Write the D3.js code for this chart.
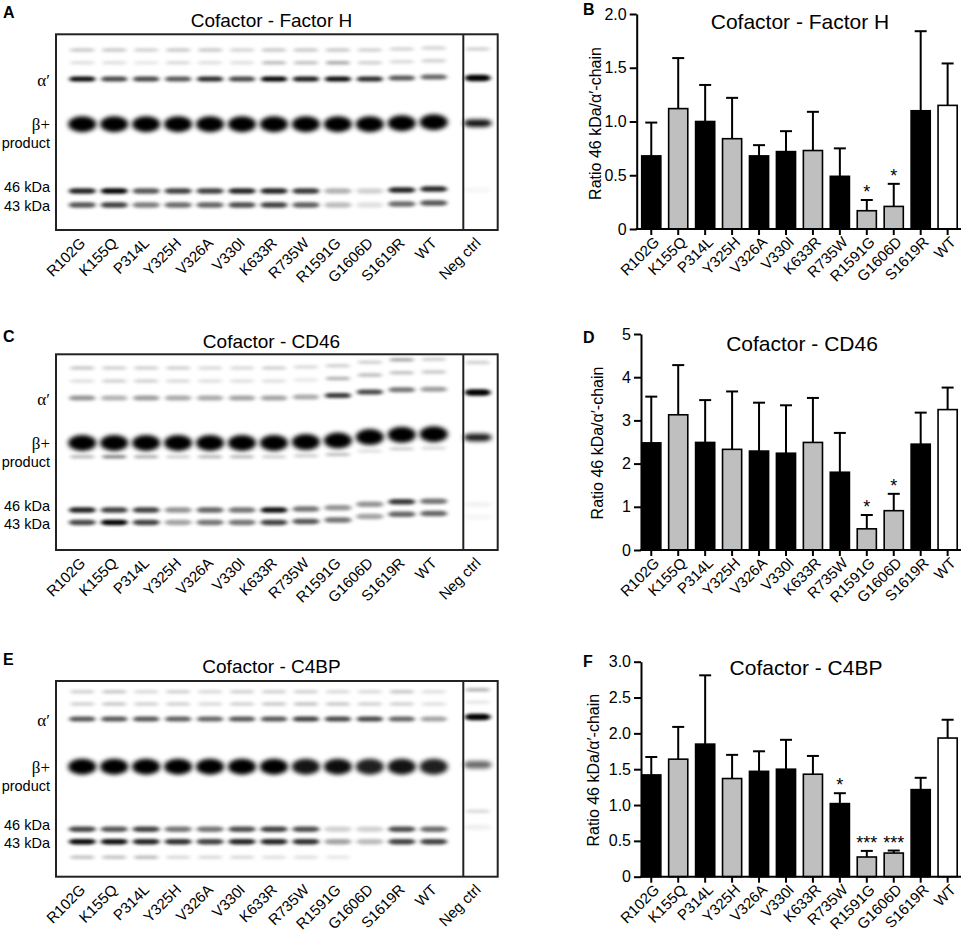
<!DOCTYPE html>
<html><head><meta charset="utf-8">
<script src="https://cdn.jsdelivr.net/npm/d3@7"></script>
<style>
body{margin:0;background:#fff;}
svg{display:block;font-family:"Liberation Sans",Arial,Helvetica,sans-serif;}
</style></head><body>
<svg id="fig" width="965" height="939"></svg>
<script>
// ---------- DATA ----------
const lanes = ["R102G","K155Q","P314L","Y325H","V326A","V330I","K633R","R735W","R1591G","G1606D","S1619R","WT"];
const negLane = "Neg ctrl";
const laneGroup = [1,2,1,2,1,1,2,1,2,2,1,0]; // 1 = dark, 2 = light, 0 = wild type

// Bar charts: mean ratio 46 kDa / alpha'-chain and SD (upper error bar)
const fhMean   = [0.68,1.12,1.00,0.84,0.68,0.72,0.73,0.49,0.17,0.21,1.10,1.15];
const fhSD     = [0.31,0.47,0.34,0.38,0.10,0.19,0.36,0.26,0.10,0.21,0.74,0.39];
const fhSig    = ["","","","","","","","","*","*","",""];
const cd46Mean = [2.48,3.13,2.49,2.33,2.29,2.24,2.49,1.80,0.49,0.91,2.45,3.25];
const cd46SD   = [1.07,1.15,0.98,1.34,1.12,1.11,1.03,0.91,0.32,0.39,0.73,0.51];
const cd46Sig  = ["","","","","","","","","*","*","",""];
const c4bpMean = [1.42,1.64,1.85,1.37,1.47,1.50,1.43,1.02,0.275,0.33,1.215,1.935];
const c4bpSD   = [0.25,0.45,0.96,0.33,0.28,0.41,0.255,0.145,0.085,0.035,0.165,0.255];
const c4bpSig  = ["","","","","","","","*","***","***","",""];
const fhTicks = [0,0.5,1,1.5,2],  fhTickLabels = ["0","0.5","1.0","1.5","2.0"];
const cd46Ticks = [0,1,2,3,4,5],  cd46TickLabels = ["0","1","2","3","4","5"];
const c4bpTicks = [0,0.5,1,1.5,2,2.5,3], c4bpTickLabels = ["0","0.5","1.0","1.5","2.0","2.5","3.0"];

// Blots: relative migration of each band row and band intensity per lane (12 lanes + Neg ctrl)
const blotA_rf = [0.08,0.145,0.228,0.459,0.801,0.872];
const blotA_kind = ["minor","minor","alpha","beta","frag","frag"];
const blotA_int = [
 [0.18,0.18,0.15,0.18,0.18,0.14,0.18,0.18,0.18,0.15,0.14,0.14,0.15],
 [0.10,0.10,0.08,0.12,0.10,0.10,0.22,0.20,0.28,0.15,0.12,0.15,0.00],
 [0.80,0.60,0.60,0.55,0.70,0.60,0.85,0.75,0.80,0.70,0.55,0.50,1.00],
 [1,1,1,1,1,1,1,1,1,1,1,1,0.95],
 [0.72,0.82,0.55,0.62,0.62,0.72,0.72,0.65,0.25,0.15,0.72,0.70,0.03],
 [0.55,0.62,0.42,0.48,0.50,0.58,0.62,0.52,0.22,0.10,0.48,0.55,0.00]
];
const blotA_shift = [0,0,0,0,0,0,0,0,0,0,-0.005,-0.01,-0.005];

const blotC_rf = [0.07,0.136,0.223,0.453,0.524,0.796,0.859];
const blotC_kind = ["minor","minor","alpha","beta","minor","frag","frag"];
const blotC_int = [
 [0.18,0.15,0.15,0.15,0.12,0.12,0.15,0.12,0.15,0.15,0.28,0.15,0.15],
 [0.10,0.15,0.15,0.12,0.10,0.10,0.10,0.08,0.25,0.22,0.20,0.18,0.00],
 [0.35,0.25,0.32,0.28,0.28,0.30,0.30,0.28,0.65,0.60,0.45,0.32,1.00],
 [1,1,1,1,1,1,1,1,1,1,1,1,0.9],
 [0.22,0.40,0.25,0.15,0.22,0.22,0.15,0.15,0.20,0.10,0.15,0.12,0.00],
 [0.72,0.62,0.62,0.35,0.50,0.45,0.78,0.45,0.35,0.35,0.65,0.45,0.04],
 [0.60,0.85,0.62,0.30,0.45,0.45,0.62,0.55,0.45,0.30,0.50,0.50,0.03]
];
const blotC_shift = [0,0,0,0,0,0,0,-0.005,-0.012,-0.03,-0.042,-0.045,-0.028];

const blotE_rf = [0.055,0.118,0.194,0.438,0.675,0.757,0.821,0.9];
const blotE_kind = ["minor","minor","alpha","beta","minor","frag","frag","minor"];
const blotE_int = [
 [0.15,0.18,0.12,0.15,0.12,0.15,0.15,0.15,0.12,0.12,0.18,0.10,0.25],
 [0.15,0.18,0.15,0.15,0.12,0.15,0.18,0.20,0.18,0.15,0.15,0.10,0.08],
 [0.55,0.55,0.55,0.52,0.50,0.55,0.55,0.62,0.60,0.60,0.50,0.30,1.00],
 [1,1,1,1,1,1,1,0.92,0.95,0.88,0.93,0.88,0.6],
 [0,0,0,0,0,0,0,0,0,0,0,0,0.12],
 [0.60,0.55,0.62,0.45,0.45,0.58,0.62,0.58,0.15,0.15,0.58,0.48,0.05],
 [0.80,0.78,0.72,0.68,0.62,0.72,0.72,0.68,0.30,0.22,0.62,0.62,0.00],
 [0.20,0.20,0.22,0.12,0.12,0.12,0.10,0.10,0.08,0.00,0.00,0.00,0.00]
];
const blotE_shift = [0,0,0,0,0,0,0,0,0,0,0,0,-0.01];

// ---------- DRAWING ----------
const svg = d3.select("#fig");
const defs = svg.append("defs");
function addBlur(id, sd){
  defs.append("filter").attr("id",id).attr("x","-40%").attr("y","-150%").attr("width","180%").attr("height","400%")
    .append("feGaussianBlur").attr("stdDeviation",sd);
}
addBlur("blur", "2.2 1.5");
addBlur("blurB", "2.4 2");

const fillScale = d3.scaleOrdinal().domain([0,1,2]).range(["#ffffff","#000000","#bfbfbf"]);
const bandOpacity = d3.scaleLinear().domain([0,1]).range([0,1.2]).clamp(true);

function panelLetter(t, x, y){
  svg.append("text").attr("x",x).attr("y",y).attr("font-size",16).attr("font-weight","bold").text(t);
}

function blot(cfg){
  const g = svg.append("g");
  const H = 195.7, top = cfg.top, x0 = 56, x1 = 497.7, xDiv = 463.3;
  const xL = d3.scaleBand().domain(lanes).range([66.3, 449.7]);
  const xN = d3.scaleBand().domain([negLane]).range([463.6, 491.8]);
  const yR = d3.scaleLinear().domain([0,1]).range([top, top+H]);
  const cx = (i) => i < 12 ? xL(lanes[i]) + xL.bandwidth()/2 : xN(negLane) + xN.bandwidth()/2;
  const clipId = "clip" + cfg.id;
  defs.append("clipPath").attr("id", clipId).append("rect").attr("x",x0).attr("y",top).attr("width",x1-x0).attr("height",H);
  g.append("rect").attr("x",x0).attr("y",top).attr("width",x1-x0).attr("height",H).attr("fill","#fff");
  const bands = g.append("g").attr("clip-path",`url(#${clipId})`);
  const items = [];
  cfg.rf.forEach((rf, r) => {
    cfg.int[r].forEach((v, i) => { if (v > 0) items.push({rf: rf + cfg.shift[i], v, kind: cfg.kind[r], i}); });
  });
  bands.selectAll("rect.band").data(items).join("rect").attr("class","band")
    .each(function(d){
      let w, h, op = d.kind === "beta" ? d.v : bandOpacity(d.v);
      if (d.kind === "beta") { w = 28; h = d.i === 12 ? 7.5 : 16; }
      else if (d.kind === "alpha") { w = 26; h = d.i === 12 ? 6.5 : 5; }
      else if (d.kind === "frag") { w = 27; h = 5.5; }
      else { w = 24; h = 3.5; }
      d3.select(this).attr("x", cx(d.i) - w/2).attr("y", yR(d.rf) - h/2).attr("width", w).attr("height", h)
        .attr("rx", Math.min(w/2, h)).attr("ry", h/2).attr("fill","#000").attr("fill-opacity", op)
        .attr("filter", d.kind === "beta" ? "url(#blurB)" : "url(#blur)");
    });
  g.append("rect").attr("x",x0).attr("y",top).attr("width",x1-x0).attr("height",H)
    .attr("fill","none").attr("stroke","#222").attr("stroke-width",2);
  g.append("line").attr("x1",xDiv).attr("x2",xDiv).attr("y1",top).attr("y2",top+H).attr("stroke","#222").attr("stroke-width",2);
  // title
  g.append("text").attr("x",271.5).attr("y",cfg.titleY).attr("text-anchor","middle").attr("font-size",19).text(cfg.title);
  // left labels
  const rowY = (k) => yR(cfg.rf[k]);
  const ia = cfg.kind.indexOf("alpha"), ib = cfg.kind.indexOf("beta"), i46 = cfg.kind.indexOf("frag");
  const labs = [
    {t:"α′", y: rowY(ia)+1, serif:true},
    {t:"β+", y: rowY(ib), serif:true},
    {t:"product", y: rowY(ib)+19},
    {t:"46 kDa", y: rowY(i46)-4},
    {t:"43 kDa", y: rowY(i46+1)+1}
  ];
  g.selectAll("text.lab").data(labs).join("text").attr("class","lab")
    .attr("x",50).attr("y",d=>d.y).attr("dy","0.36em").attr("text-anchor","end")
    .attr("font-size",d=>d.serif?17:14.5)
    .attr("font-family",d=>d.serif?"'Liberation Serif','Times New Roman',serif":null)
    .text(d=>d.t);
  // lane labels
  const all = lanes.concat([negLane]);
  g.selectAll("text.lane").data(all).join("text").attr("class","lane")
    .attr("text-anchor","end").attr("font-size",15)
    .attr("transform",(d,i)=>`translate(${cx(i)+4},${top+H+14}) rotate(-45)`)
    .text(d=>d);
}

function barChart(cfg){
  const g = svg.append("g");
  const x = d3.scaleBand().domain(lanes).range([637.8, 961.1]).paddingInner(0.29).paddingOuter(0.145);
  const y = d3.scaleLinear().domain([0, cfg.yMax]).range([cfg.bottom, cfg.top]);
  const data = lanes.map((l,i)=>({l, m: cfg.mean[i], sd: cfg.sd[i], sig: cfg.sig[i], grp: laneGroup[i]}));
  const cxf = d => x(d.l) + x.bandwidth()/2;
  // error bars
  g.selectAll("line.err").data(data).join("line").attr("class","err")
    .attr("x1",cxf).attr("x2",cxf).attr("y1",d=>y(d.m)).attr("y2",d=>y(d.m+d.sd))
    .attr("stroke","#000").attr("stroke-width",2);
  g.selectAll("line.cap").data(data).join("line").attr("class","cap")
    .attr("x1",d=>cxf(d)-6).attr("x2",d=>cxf(d)+6).attr("y1",d=>y(d.m+d.sd)).attr("y2",d=>y(d.m+d.sd))
    .attr("stroke","#000").attr("stroke-width",2);
  // bars
  g.selectAll("rect.bar").data(data).join("rect").attr("class","bar")
    .attr("x",d=>x(d.l)).attr("y",d=>y(d.m)).attr("width",x.bandwidth()).attr("height",d=>cfg.bottom-y(d.m))
    .attr("fill",d=>fillScale(d.grp)).attr("stroke","#000").attr("stroke-width",1.6);
  // significance
  g.selectAll("text.sig").data(data.filter(d=>d.sig)).join("text").attr("class","sig")
    .attr("x",cxf).attr("y",d=>y(d.m+d.sd)-2).attr("text-anchor","middle").attr("font-size",18).text(d=>d.sig);
  // y axis
  const ya = g.append("g").attr("transform",`translate(${cfg.axisX},0)`)
    .call(d3.axisLeft(y).tickValues(cfg.ticks).tickFormat((d,i)=>cfg.tickLabels[i]).tickSize(7).tickSizeOuter(0).tickPadding(3));
  ya.select(".domain").attr("stroke-width",2);
  ya.selectAll(".tick line").attr("stroke-width",2);
  ya.selectAll(".tick text").attr("font-size",16).attr("font-family",null).attr("fill","#000");
  // x axis
  const xa = g.append("g").attr("transform",`translate(0,${cfg.bottom})`)
    .call(d3.axisBottom(x).tickSize(6).tickSizeOuter(0));
  xa.select(".domain").remove();
  xa.selectAll(".tick line").attr("stroke-width",2);
  xa.selectAll(".tick text").attr("font-size",15).attr("font-family",null).attr("fill","#000")
    .attr("text-anchor","end").attr("x",0).attr("y",0).attr("dy",0)
    .attr("transform","translate(9,14) rotate(-45)");
  g.append("line").attr("x1",cfg.axisX-1).attr("x2",961).attr("y1",cfg.bottom).attr("y2",cfg.bottom)
    .attr("stroke","#000").attr("stroke-width",2);
  // y label
  g.append("text").attr("transform",`translate(${cfg.labelX},${(cfg.top+cfg.bottom)/2+cfg.labelDy}) rotate(-90)`)
    .attr("text-anchor","middle").attr("font-size",16).text("Ratio 46 kDa/α′-chain");
  // title
  g.append("text").attr("x",cfg.titleX).attr("y",cfg.titleY).attr("text-anchor","middle").attr("font-size",21).text(cfg.title);
}

blot({id:"A", top:34.3, rf:blotA_rf, kind:blotA_kind, int:blotA_int, shift:blotA_shift, title:"Cofactor - Factor H", titleY:27});
blot({id:"C", top:354.3, rf:blotC_rf, kind:blotC_kind, int:blotC_int, shift:blotC_shift, title:"Cofactor - CD46", titleY:348});
blot({id:"E", top:681, rf:blotE_rf, kind:blotE_kind, int:blotE_int, shift:blotE_shift, title:"Cofactor - C4BP", titleY:673});

barChart({top:14, bottom:229, axisX:636.7, yMax:2, ticks:fhTicks, tickLabels:fhTickLabels, mean:fhMean, sd:fhSD, sig:fhSig,
  title:"Cofactor - Factor H", titleX:800, titleY:28.5, labelX:601, labelDy:2});
barChart({top:334, bottom:550, axisX:641, yMax:5, ticks:cd46Ticks, tickLabels:cd46TickLabels, mean:cd46Mean, sd:cd46SD, sig:cd46Sig,
  title:"Cofactor - CD46", titleX:802, titleY:350.5, labelX:603, labelDy:1});
barChart({top:661.7, bottom:876.7, axisX:641, yMax:3, ticks:c4bpTicks, tickLabels:c4bpTickLabels, mean:c4bpMean, sd:c4bpSD, sig:c4bpSig,
  title:"Cofactor - C4BP", titleX:806, titleY:675, labelX:599, labelDy:1});

panelLetter("A",3,18); panelLetter("B",583,15);
panelLetter("C",3,342); panelLetter("D",583,343);
panelLetter("E",3,665); panelLetter("F",583,667);
</script>
</body></html>
